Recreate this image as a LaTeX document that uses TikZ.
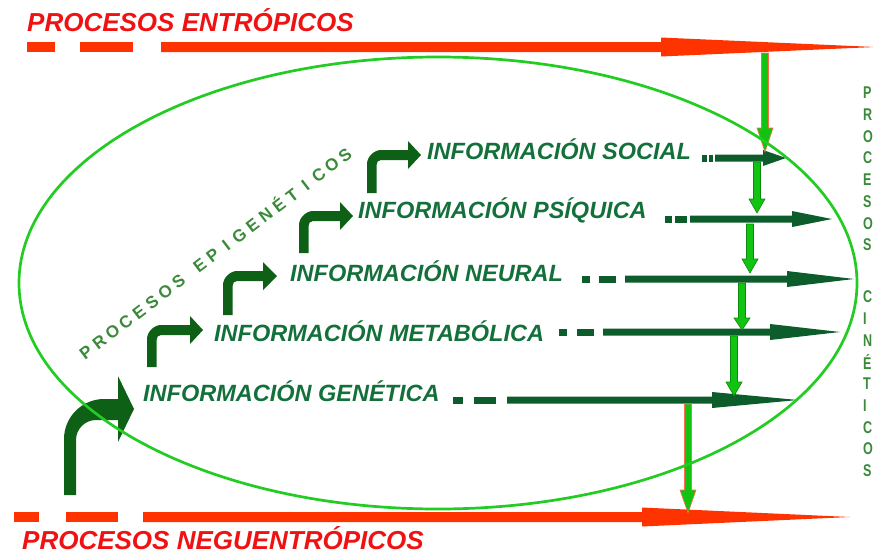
\documentclass[tikz,border=0pt]{standalone}
\usepackage{fontspec}
\setmainfont{Liberation Sans}
\definecolor{titlered}{HTML}{F01212}
\definecolor{linered}{HTML}{FF3300}
\definecolor{labelgreen}{HTML}{13703A}
\definecolor{arrowgreen}{HTML}{0C5C2C}
\definecolor{bentgreen}{HTML}{0D6016}
\definecolor{lightgreen}{HTML}{12C412}
\definecolor{ellgreen}{HTML}{22CC22}
\definecolor{epigreen}{HTML}{3A8A3A}
\definecolor{vedge}{HTML}{0A8A0A}
\definecolor{redge}{HTML}{FF6A50}
\tikzset{
  titletext/.style={text=titlered, font=\fontsize{26}{30}\selectfont\bfseries\itshape, inner sep=0pt},
  infotext/.style={text=labelgreen, font=\fontsize{23.5}{28}\selectfont\bfseries\itshape, inner sep=0pt, anchor=base west},
  sidetext/.style={text=epigreen, font=\fontsize{17}{20}\selectfont\bfseries, inner sep=0pt, anchor=west},
  epiletter/.style={text=epigreen, font=\fontsize{17}{20}\selectfont\bfseries, inner sep=0pt, rotate=37.3, text height=12.2pt, text depth=0pt, anchor=center},
}
\newcommand{\harrow}[4]{% y, x start, x head base, x tip
  \fill[arrowgreen] (#2,#1-3.5) -- (#3,#1-3.5) -- (#3,#1-8) -- (#4,#1) -- (#3,#1+8) -- (#3,#1+3.5) -- (#2,#1+3.5) -- cycle;}
\newcommand{\hdash}[3]{% y, x1, x2
  \fill[arrowgreen] (#2,#1-3.5) rectangle (#3,#1+3.5);}
\newcommand{\varrow}[5]{% x, y start, y head base, y tip, edge colour
  \filldraw[fill=lightgreen, draw=#5, line width=0.6pt, line join=miter] (#1-3.5,#2) -- (#1-3.5,#3) -- (#1-8,#3) -- (#1,#4) -- (#1+8,#3) -- (#1+3.5,#3) -- (#1+3.5,#2) -- cycle;}
\newcommand{\bentarrow}[5]{% x stem left, y band top, y bottom, x head base, x tip
  \fill[bentgreen] (#1,#3) -- (#1,#2+14) .. controls (#1,#2+6.3) and (#1+7.7,#2) .. (#1+14,#2)
    -- (#4,#2) -- (#4,#2-9) -- (#5,#2+5) -- (#4,#2+19) -- (#4,#2+10)
    -- (#1+14,#2+10) .. controls (#1+11.2,#2+10) and (#1+9.5,#2+12.2) .. (#1+9.5,#2+15) -- (#1+9.5,#3) -- cycle;}
\begin{document}
\begin{tikzpicture}[x=1pt,y=-1pt]
\useasboundingbox (0,0) rectangle (873,555);

% red process lines
\fill[linered] (27,42) rectangle (55,52);
\fill[linered] (80,42) rectangle (133,52);
\fill[linered] (161,42) -- (661,42) -- (661,37.5) -- (875,47) -- (661,56.5) -- (661,52) -- (161,52) -- cycle;
\fill[linered] (14,512) rectangle (39,522);
\fill[linered] (66,512) rectangle (118,522);
\fill[linered] (143,512) -- (642,512) -- (642,507.5) -- (850,517) -- (642,526.5) -- (642,522) -- (143,522) -- cycle;

\node[titletext, anchor=base west] (tentro) at (27,31) {PROCESOS ENTRÓPICOS};
\node[titletext, anchor=base west] (tneg) at (22,549) {PROCESOS NEGUENTRÓPICOS};

% big bent arrow
\fill[bentgreen] (64,495) -- (64,439) .. controls (64,417) and (82,399) .. (104,399) -- (118,399)
  -- (118,376) -- (134,409) -- (118,442) -- (118,420) -- (96,420)
  .. controls (85,420) and (76,429) .. (76,440) -- (76,495) -- cycle;

% small bent arrows
\bentarrow{147}{325}{367}{190}{203}
\bentarrow{223}{271}{315}{263}{277}
\bentarrow{299}{211}{253}{340}{353}
\bentarrow{367}{150}{193}{408}{421}

% labels
\node[infotext] (social) at (427,159) {INFORMACIÓN SOCIAL};
\node[infotext] (psiquica) at (358,218) {INFORMACIÓN PSÍQUICA};
\node[infotext] (neural) at (290,281) {INFORMACIÓN NEURAL};
\node[infotext] (metab) at (214,341) {INFORMACIÓN METABÓLICA};
\node[infotext] (genet) at (143,401) {INFORMACIÓN GENÉTICA};

% horizontal arrows
\hdash{158}{702}{707}\hdash{158}{709}{713}\harrow{158}{715}{763}{786}
\hdash{219}{665}{672}\hdash{219}{675}{687}\harrow{219}{690}{792}{832}
\hdash{279}{582}{590}\hdash{279}{599}{616}\harrow{279}{625}{787}{854}
\hdash{332}{559}{567}\hdash{332}{577}{594}\harrow{332}{603}{770}{840}
\hdash{400}{453}{463}\hdash{400}{474}{496}\harrow{400}{507}{712}{798}

% vertical arrows
\varrow{765}{53}{128}{152}{redge}
\varrow{757}{162}{199}{213}{vedge}
\varrow{750}{224}{259}{273}{vedge}
\varrow{742}{283}{318}{330}{vedge}
\varrow{734}{336}{382}{396}{vedge}
\varrow{688}{404}{490}{513}{redge}

% ellipse
\draw[ellgreen, line width=2.7pt] (438,283) ellipse [x radius=419, y radius=226];

% epigenetic text, letter by letter along the diagonal
\foreach \l/\k [count=\i] in {P/0,R/1,O/2,C/3,E/4,S/5,O/6,S/7,E/8.6,P/9.6,I/10.6,G/11.6,E/12.6,N/13.6,É/14.6,T/15.6,I/16.6,C/17.6,O/18.6,S/19.6}
  \node[epiletter] (epi\i) at ({86+0.7957*16.6*\k},{352-0.6057*16.6*\k}) {\l};

% right vertical text
\foreach \l [count=\i from 0] in {P,R,O,C,E,S,O,S}
  \node[sidetext] (ra\i) at (863,{93+21.7*\i}) {\scalebox{0.74}[1]{\l}};
\foreach \l [count=\i from 0] in {C,I,N,É,T,I,C,O,S}
  \node[sidetext] (rb\i) at (863,{297+21.7*\i}) {\scalebox{0.74}[1]{\l}};
\end{tikzpicture}
\end{document}
